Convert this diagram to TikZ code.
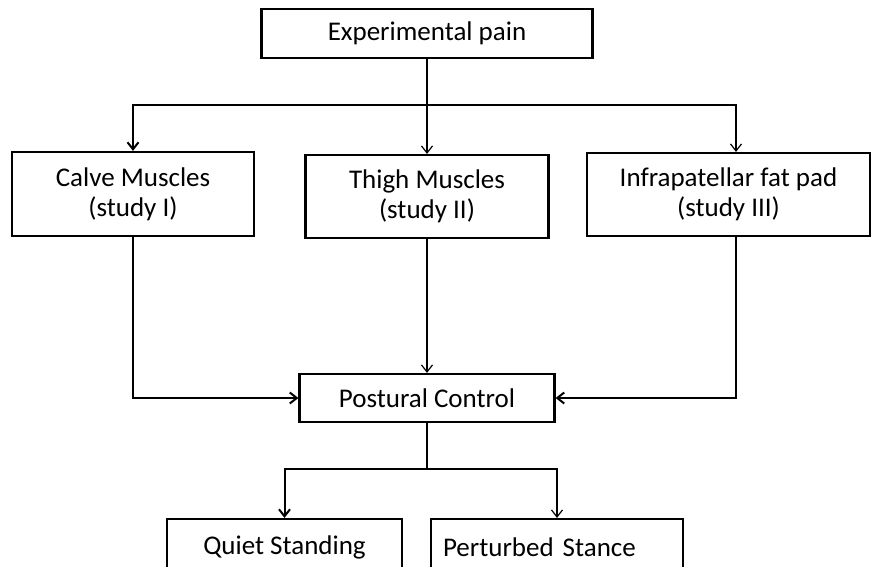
\documentclass[tikz,border=0pt]{standalone}
\usepackage{fontspec}
\setmainfont{Carlito}
\usetikzlibrary{arrows.meta}

\begin{document}
\begin{tikzpicture}[x=1pt,y=-1pt,
  box/.style={draw, line width=2.2pt, align=center, inner sep=0pt,
              font=\fontsize{27}{30}\selectfont},
  link/.style={-{Straight Barb[length=7pt,width=11pt]}, line width=1.2pt},
  heavy link/.style={link, line width=2pt}]

  \useasboundingbox (0,0) rectangle (873,566);
  \clip (0,0) rectangle (873,566);

  \node[box, minimum width=331pt, minimum height=49pt] (pain) at (427,33.5) {Experimental pain};

  \node[box, minimum width=242pt, minimum height=84pt] (calve) at (133,194) {Calve Muscles\\(study I)};
  \node[box, minimum width=243pt, minimum height=83pt] (thigh) at (427,196.5) {Thigh Muscles\\(study II)};
  \node[box, minimum width=283pt, minimum height=83pt] (infra) at (728.5,194.5) {Infrapatellar fat pad\\(study III)};

  \node[box, minimum width=255pt, minimum height=48pt] (postural) at (427,398) {Postural Control};

  % bottom boxes run off the page
  \node[box, minimum width=235pt, minimum height=56pt] (quiet) at (284.5,547) {Quiet Standing};
  \node[box, minimum width=252pt, minimum height=56pt, text width=228pt, align=left] (perturbed) at (557,547) {Perturbed Stance};

  \coordinate (split) at (427,105);
  \coordinate (fork) at (427,469);

  \draw[line width=1.2pt] (pain.south) -- (split);
  \draw[heavy link] (split) -| (calve.north);
  \draw[link] (split) -- (thigh.north);
  \draw[link] (split) -| ([xshift=7.5pt]infra.north);

  \draw[heavy link] (calve.south) |- (postural.west);
  \draw[link] (thigh.south) -- (postural.north);
  \draw[heavy link] ([xshift=7.5pt]infra.south) |- (postural.east);

  \draw[line width=1.2pt] (postural.south) -- (fork);
  \draw[heavy link] (fork) -| (quiet.north);
  \draw[link] (fork) -| (perturbed.north);

\end{tikzpicture}
\end{document}
